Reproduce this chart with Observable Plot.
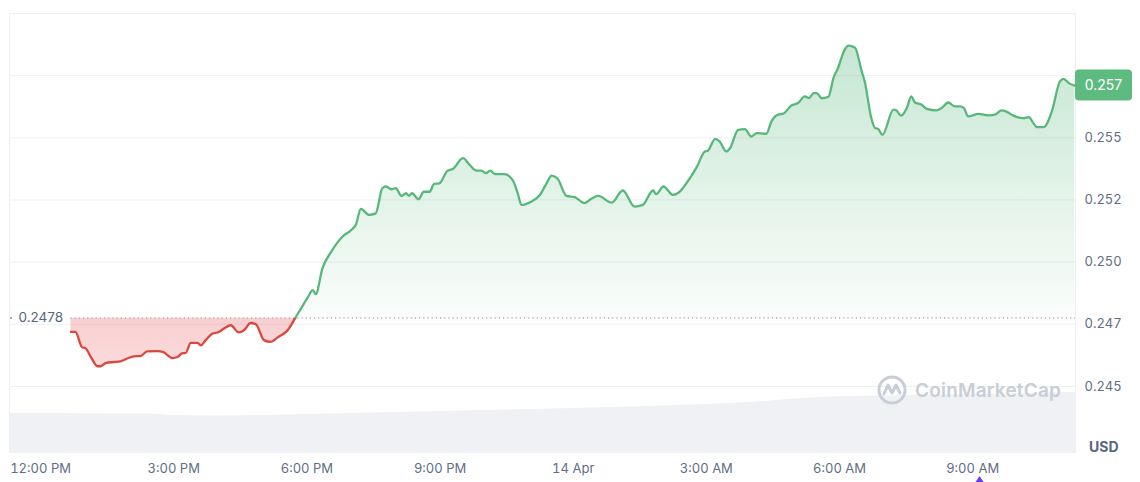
<!DOCTYPE html>
<html><head><meta charset="utf-8">
<script src="https://cdn.jsdelivr.net/npm/d3@7"></script>
<script src="https://cdn.jsdelivr.net/npm/@observablehq/plot@0.6"></script>
<style>
body{margin:0;background:#fff;font-family:Inter,"Noto Sans",sans-serif;}
#wrap{position:relative;width:1140px;height:482px;overflow:hidden;}
#wrap svg{position:absolute;left:0;top:0;}
#wm{position:absolute;left:876px;top:374px;display:flex;align-items:center;gap:7px;color:#c8cdd6;font:600 19px Inter,sans-serif;letter-spacing:0.2px;}
#usd{position:absolute;left:1089px;top:438px;font:700 14px Inter,sans-serif;color:#58667e;}
</style></head>
<body><div id="wrap"></div>
<script>
// ---- data ----
const times = [
"2024-04-13T12:41","2024-04-13T12:47","2024-04-13T12:56","2024-04-13T13:01","2024-04-13T13:08","2024-04-13T13:17","2024-04-13T13:21","2024-04-13T13:28","2024-04-13T13:39","2024-04-13T13:48",
"2024-04-13T13:57","2024-04-13T14:06","2024-04-13T14:15","2024-04-13T14:24","2024-04-13T14:38","2024-04-13T14:46","2024-04-13T14:58","2024-04-13T15:05","2024-04-13T15:12","2024-04-13T15:16",
"2024-04-13T15:23","2024-04-13T15:32","2024-04-13T15:37","2024-04-13T15:43","2024-04-13T15:52","2024-04-13T16:01","2024-04-13T16:08","2024-04-13T16:17","2024-04-13T16:28","2024-04-13T16:35",
"2024-04-13T16:44","2024-04-13T16:51","2024-04-13T17:02","2024-04-13T17:11","2024-04-13T17:20","2024-04-13T17:34","2024-04-13T17:45","2024-04-13T17:52","2024-04-13T18:01","2024-04-13T18:08",
"2024-04-13T18:12","2024-04-13T18:21","2024-04-13T18:33","2024-04-13T18:48","2024-04-13T19:00","2024-04-13T19:06","2024-04-13T19:13","2024-04-13T19:24","2024-04-13T19:33","2024-04-13T19:42",
"2024-04-13T19:47","2024-04-13T19:54","2024-04-13T20:00","2024-04-13T20:08","2024-04-13T20:14","2024-04-13T20:18","2024-04-13T20:22","2024-04-13T20:31","2024-04-13T20:38","2024-04-13T20:46",
"2024-04-13T20:52","2024-04-13T20:59","2024-04-13T21:10","2024-04-13T21:17","2024-04-13T21:31","2024-04-13T21:40","2024-04-13T21:49","2024-04-13T21:56","2024-04-13T22:02","2024-04-13T22:08",
"2024-04-13T22:14","2024-04-13T22:27","2024-04-13T22:38","2024-04-13T22:45","2024-04-13T22:50","2024-04-13T23:03","2024-04-13T23:15","2024-04-13T23:24","2024-04-13T23:31","2024-04-13T23:39",
"2024-04-13T23:51","2024-04-14T00:02","2024-04-14T00:11","2024-04-14T00:15","2024-04-14T00:24","2024-04-14T00:34","2024-04-14T00:52","2024-04-14T01:07","2024-04-14T01:23","2024-04-14T01:34",
"2024-04-14T01:48","2024-04-14T01:52","2024-04-14T02:02","2024-04-14T02:15","2024-04-14T02:24","2024-04-14T02:33","2024-04-14T02:47","2024-04-14T02:58","2024-04-14T03:02","2024-04-14T03:12",
"2024-04-14T03:18","2024-04-14T03:27","2024-04-14T03:32","2024-04-14T03:43","2024-04-14T03:52","2024-04-14T04:01","2024-04-14T04:08","2024-04-14T04:21","2024-04-14T04:28","2024-04-14T04:37",
"2024-04-14T04:44","2024-04-14T04:55","2024-04-14T05:04","2024-04-14T05:13","2024-04-14T05:19","2024-04-14T05:25","2024-04-14T05:29","2024-04-14T05:36","2024-04-14T05:45","2024-04-14T05:52",
"2024-04-14T05:58","2024-04-14T06:07","2024-04-14T06:12","2024-04-14T06:21","2024-04-14T06:30","2024-04-14T06:34","2024-04-14T06:43","2024-04-14T06:48","2024-04-14T06:52","2024-04-14T06:58",
"2024-04-14T07:13","2024-04-14T07:17","2024-04-14T07:23","2024-04-14T07:31","2024-04-14T07:37","2024-04-14T07:42","2024-04-14T07:51","2024-04-14T07:58","2024-04-14T08:11","2024-04-14T08:18",
"2024-04-14T08:27","2024-04-14T08:36","2024-04-14T08:43","2024-04-14T08:48","2024-04-14T08:54","2024-04-14T09:08","2024-04-14T09:21","2024-04-14T09:30","2024-04-14T09:39","2024-04-14T09:45",
"2024-04-14T09:55","2024-04-14T10:09","2024-04-14T10:16","2024-04-14T10:22","2024-04-14T10:27","2024-04-14T10:36","2024-04-14T10:47","2024-04-14T10:58","2024-04-14T11:03","2024-04-14T11:10",
"2024-04-14T11:18"];
const prices = [
0.24719,0.24719,0.24658,0.24653,0.24618,0.24581,0.24581,0.24594,0.24598,0.24601,
0.24612,0.24621,0.24622,0.24641,0.24642,0.24638,0.24614,0.24618,0.24634,0.24634,
0.24675,0.24675,0.24665,0.24685,0.24712,0.24719,0.24733,0.24746,0.24717,0.24726,
0.24755,0.24750,0.24686,0.24679,0.24696,0.24726,0.24779,0.24813,0.24857,0.24887,
0.24871,0.24975,0.25042,0.25102,0.25129,0.25149,0.25214,0.25190,0.25196,0.25297,
0.25304,0.25293,0.25297,0.25266,0.25277,0.25267,0.25277,0.25253,0.25283,0.25283,
0.25315,0.25317,0.25367,0.25374,0.25418,0.25391,0.25368,0.25368,0.25358,0.25368,
0.25354,0.25354,0.25331,0.25277,0.25230,0.25243,0.25270,0.25317,0.25348,0.25335,
0.25266,0.25261,0.25243,0.25237,0.25254,0.25266,0.25239,0.25288,0.25223,0.25230,
0.25288,0.25273,0.25304,0.25270,0.25283,0.25317,0.25382,0.25445,0.25448,0.25496,
0.25485,0.25445,0.25458,0.25532,0.25535,0.25505,0.25519,0.25516,0.25566,0.25593,
0.25597,0.25630,0.25640,0.25667,0.25660,0.25680,0.25680,0.25659,0.25665,0.25742,
0.25781,0.25855,0.25871,0.25862,0.25767,0.25727,0.25579,0.25539,0.25536,0.25512,
0.25613,0.25610,0.25589,0.25620,0.25667,0.25642,0.25633,0.25616,0.25610,0.25620,
0.25642,0.25626,0.25626,0.25620,0.25586,0.25596,0.25590,0.25593,0.25610,0.25606,
0.25589,0.25579,0.25583,0.25559,0.25543,0.25543,0.25606,0.25727,0.25737,0.25720,
0.25710];
const referencePrice = 0.24775;
const referenceLabel = "0.2478";

const volTimes = ["2024-04-13T11:18","2024-04-13T13:00","2024-04-13T14:30","2024-04-13T15:00","2024-04-13T16:00","2024-04-13T17:00","2024-04-13T18:00","2024-04-13T19:00","2024-04-13T20:00","2024-04-13T21:00","2024-04-13T22:00","2024-04-13T23:00","2024-04-14T00:00","2024-04-14T01:00","2024-04-14T02:00","2024-04-14T03:00","2024-04-14T04:00","2024-04-14T05:00","2024-04-14T06:00","2024-04-14T07:00","2024-04-14T08:00","2024-04-14T09:00","2024-04-14T10:00","2024-04-14T11:19"];
const volumes = [19.5,19.4,19.2,18.5,18.3,18.5,19.0,19.5,20.0,20.5,21.0,21.5,22.0,22.6,23.2,24.0,25.0,26.8,27.9,28.3,28.7,29.0,29.4,30.1];
const volumeMax = 219.5;

const xDomain = ["2024-04-13T11:18","2024-04-14T11:19"];
const xTicks = ["2024-04-13T12:00","2024-04-13T15:00","2024-04-13T18:00","2024-04-13T21:00","2024-04-14T00:00","2024-04-14T03:00","2024-04-14T06:00","2024-04-14T09:00"];
const xTickLabels = ["12:00 PM","3:00 PM","6:00 PM","9:00 PM","14 Apr","3:00 AM","6:00 AM","9:00 AM"];
const yDomain = [0.24234, 0.26];
const yGrid = [0.245, 0.2475, 0.25, 0.2525, 0.255, 0.2575, 0.26];
const yTicks = [0.245, 0.2475, 0.25, 0.2525, 0.255];
const yTickLabels = ["0.245","0.247","0.250","0.252","0.255"];

// ---- build ----
const D = s => new Date(s + ":00Z");
const data = times.map((t, i) => ({t: D(t), p: prices[i]}));
const volData = volTimes.map((t, i) => ({t: D(t), v: volumes[i]}));
const xDom = xDomain.map(D);
const xLabelMap = new Map(xTicks.map((t, i) => [+D(t), xTickLabels[i]]));
const yLabelMap = new Map(yTicks.map((v, i) => [v, yTickLabels[i]]));
const GREEN = "#58b87b", RED = "#d9483f";
const common = {width: 1140, height: 482, marginTop: 13, marginBottom: 30, marginLeft: 9, marginRight: 65};
const curve = "monotone-x";

const volChart = Plot.plot({
  ...common,
  style: {background: "transparent"},
  x: {type: "utc", domain: xDom, axis: null},
  y: {domain: [0, volumeMax], axis: null},
  marks: [Plot.areaY(volData, {x: "t", y: "v", fill: "#eff1f5", curve: "monotone-x"})]
});

const chart = Plot.plot({
  ...common,
  style: {background: "transparent", fontFamily: "Inter, sans-serif", fontSize: "13px", color: "#616e85"},
  x: {type: "utc", domain: xDom, label: null},
  y: {domain: yDomain, label: null},
  marks: [
    Plot.gridY(yGrid, {stroke: "#eef0f3", strokeOpacity: 1}),
    Plot.frame({stroke: "#eef0f3"}),
    Plot.areaY(data, {x: "t", y1: () => referencePrice, y2: "p", fill: "url(#gGreen)", curve}),
    Plot.areaY(data, {x: "t", y1: () => referencePrice, y2: "p", fill: "url(#gRed)", curve}),
    Plot.ruleY([referencePrice], {x1: () => data[0].t, x2: () => xDom[1], stroke: "#8a93a6", strokeDasharray: "1.2,3", strokeWidth: 1}),
    Plot.line(data, {x: "t", y: "p", stroke: GREEN, strokeWidth: 2.3, curve}),
    Plot.line(data, {x: "t", y: "p", stroke: RED, strokeWidth: 2.3, curve}),
    Plot.dot([referencePrice], {x: () => xDom[0], y: d => d, r: 1, fill: "#8a93a6", dx: 1.5}),
    Plot.text([referenceLabel], {x: () => xDom[0], y: () => referencePrice, text: d => d, dx: 9, textAnchor: "start", fill: "#58667e", fontSize: 13.5}),
    Plot.axisX({ticks: xTicks.map(D), tickFormat: d => xLabelMap.get(+d), tickSize: 0, tickPadding: 11, fontSize: 13, label: null}),
    Plot.axisY({anchor: "right", ticks: yTicks, tickFormat: d => yLabelMap.get(d), tickSize: 0, tickPadding: 9, fontSize: 13, label: null})
  ]
});

const wrap = document.getElementById("wrap");
wrap.appendChild(volChart);
wrap.appendChild(chart);

// gradients & clipping from the price scale
const y = chart.scale("y"), x = chart.scale("x");
const yb = y.apply(referencePrice);
const yTop = y.apply(d3.max(prices)), yLow = y.apply(d3.min(prices));
const svg = d3.select(chart);
const defs = svg.insert("defs", ":first-child");
const gg = defs.append("linearGradient").attr("id", "gGreen").attr("gradientUnits", "userSpaceOnUse").attr("x1", 0).attr("x2", 0).attr("y1", yTop).attr("y2", yb);
gg.append("stop").attr("offset", 0).attr("stop-color", GREEN).attr("stop-opacity", 0.34);
gg.append("stop").attr("offset", 1).attr("stop-color", GREEN).attr("stop-opacity", 0.03);
const gr = defs.append("linearGradient").attr("id", "gRed").attr("gradientUnits", "userSpaceOnUse").attr("x1", 0).attr("x2", 0).attr("y1", yb).attr("y2", yLow);
gr.append("stop").attr("offset", 0).attr("stop-color", "#e8474b").attr("stop-opacity", 0.26);
gr.append("stop").attr("offset", 1).attr("stop-color", "#e8474b").attr("stop-opacity", 0.2);
defs.append("clipPath").attr("id", "cUp").append("rect").attr("x", 0).attr("y", 0).attr("width", 1140).attr("height", yb);
defs.append("clipPath").attr("id", "cDown").append("rect").attr("x", 0).attr("y", yb).attr("width", 1140).attr("height", 482 - yb);
const areas = chart.querySelectorAll('g[aria-label="area"]');
const lines = chart.querySelectorAll('g[aria-label="line"]');
areas[0].setAttribute("clip-path", "url(#cUp)");
areas[1].setAttribute("clip-path", "url(#cDown)");
lines[0].setAttribute("clip-path", "url(#cUp)");
lines[1].setAttribute("clip-path", "url(#cDown)");

// current price tag
const last = data[data.length - 1];
const ly = y.apply(last.p);
const tag = svg.append("g");
tag.append("rect").attr("x", 1075).attr("y", ly - 15.5).attr("width", 57).attr("height", 31).attr("rx", 4).attr("fill", "#5dbb7f");
tag.append("text").attr("x", 1103.5).attr("y", ly).attr("dy", "0.35em").attr("text-anchor", "middle")
  .attr("fill", "#fff").attr("font-size", 14).attr("font-family", "Inter, sans-serif").text(d3.format(".3f")(Math.floor(last.p * 1000) / 1000));
// small purple marker under 9:00 AM
const mx = x.apply(D("2024-04-14T09:10"));
svg.append("path").attr("d", `M${mx - 4},482 L${mx},476 L${mx + 4},482 Z`).attr("fill", "#6b3df0");

// watermark & unit
const wm = document.createElement("div");
wm.id = "wm";
wm.innerHTML = '<svg width="32" height="32" viewBox="0 0 32 32" style="position:static"><circle cx="16" cy="16" r="13" fill="none" stroke="#c8cdd6" stroke-width="3"/><path d="M8 20 L12 11 L16 19 L20 11 L24 19" fill="none" stroke="#c8cdd6" stroke-width="3" stroke-linejoin="round" stroke-linecap="round"/></svg><span>CoinMarketCap</span>';
wrap.appendChild(wm);
const usd = document.createElement("div");
usd.id = "usd"; usd.textContent = "USD";
wrap.appendChild(usd);
</script>
</body></html>
